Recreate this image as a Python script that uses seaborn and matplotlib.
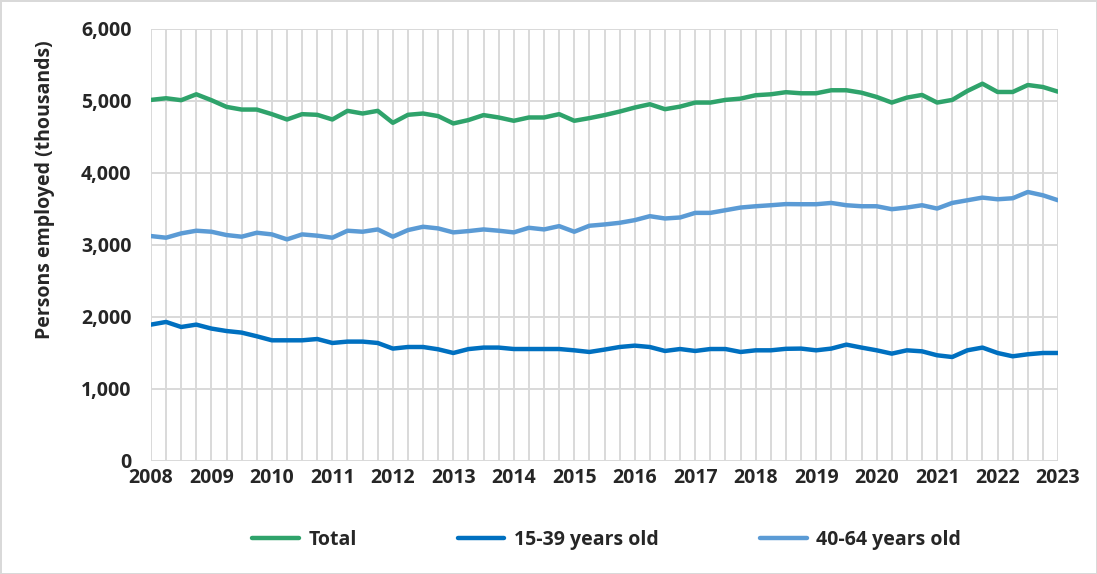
import numpy as np
import pandas as pd
import matplotlib
matplotlib.use("Agg")
import matplotlib.pyplot as plt
import seaborn as sns
from matplotlib.ticker import FuncFormatter, MultipleLocator

# Quarterly data, 2008 Q1 .. 2023 Q1 (thousands)
start_year = 2008
total = [5015, 5038, 5011, 5093, 5011, 4918, 4881, 4881, 4817, 4743,
         4817, 4808, 4743, 4863, 4826, 4863, 4697, 4808, 4826, 4790,
         4688, 4735, 4804, 4771, 4725, 4771, 4771, 4817, 4725, 4762,
         4804, 4853, 4909, 4955, 4886, 4922, 4978, 4978, 5015, 5033,
         5080, 5093, 5122, 5107, 5107, 5149, 5149, 5115, 5056, 4978,
         5047, 5084, 4978, 5015, 5139, 5240, 5125, 5125, 5222, 5194,
         5129]
age_15_39 = [1894, 1931, 1861, 1894, 1839, 1805, 1783, 1732, 1676, 1676,
             1676, 1694, 1639, 1658, 1658, 1639, 1561, 1583, 1583, 1551,
             1500, 1554, 1575, 1575, 1555, 1555, 1555, 1555, 1537, 1514,
             1547, 1583, 1602, 1583, 1528, 1555, 1528, 1555, 1555, 1514,
             1537, 1537, 1558, 1561, 1537, 1561, 1616, 1575, 1537, 1491,
             1537, 1523, 1468, 1444, 1537, 1575, 1500, 1454, 1482, 1500,
             1500]
age_40_64 = [3124, 3101, 3161, 3198, 3184, 3138, 3115, 3170, 3147, 3078,
             3147, 3129, 3101, 3198, 3184, 3216, 3115, 3207, 3253, 3230,
             3175, 3193, 3216, 3198, 3175, 3239, 3216, 3262, 3184, 3267,
             3285, 3308, 3345, 3400, 3368, 3382, 3446, 3446, 3483, 3520,
             3538, 3552, 3568, 3566, 3566, 3584, 3552, 3538, 3538, 3497,
             3520, 3552, 3506, 3584, 3621, 3658, 3635, 3649, 3736, 3690,
             3621]
series_names = ["Total", "15-39 years old", "40-64 years old"]
colors = ["#2fa36b", "#0070c0", "#5b9bd5"]
year_ticks = list(range(2008, 2024))

x = [start_year + i * 0.25 for i in range(len(total))]
df = pd.DataFrame({
    "time": x * 3,
    "value": total + age_15_39 + age_40_64,
    "series": [series_names[0]] * len(x) + [series_names[1]] * len(x) + [series_names[2]] * len(x),
})

sns.set_theme(style="white")
plt.rcParams["font.family"] = ["Open Sans", "DejaVu Sans"]

fig = plt.figure(figsize=(10.97, 5.74), dpi=100, edgecolor="#d9d9d9", linewidth=2)
ax = fig.add_axes([0.1376, 0.1969, 0.8269, 0.7526])

sns.lineplot(data=df, x="time", y="value", hue="series", hue_order=series_names,
             palette=colors, linewidth=3.2, ax=ax, legend=False, zorder=3)

ax.set_xlim(2008, 2023)
ax.set_ylim(0, 6000)
ax.set_xticks(year_ticks)
ax.xaxis.set_minor_locator(MultipleLocator(0.25))
ax.yaxis.set_major_locator(MultipleLocator(1000))
ax.yaxis.set_major_formatter(FuncFormatter(lambda v, p: f"{int(v):,}"))
ax.grid(True, which="both", axis="x", color="#d9d9d9", linewidth=1.4, zorder=0)
ax.grid(True, which="major", axis="y", color="#d9d9d9", linewidth=1.4, zorder=0)
for s in ax.spines.values():
    s.set_visible(False)
ax.tick_params(axis="y", length=0, pad=14, labelsize=14)
ax.tick_params(axis="x", which="both", length=0, pad=5, labelsize=14)
for lab in ax.get_xticklabels() + ax.get_yticklabels():
    lab.set_fontweight("bold")
ax.set_xlabel("")
ax.set_ylabel("Persons employed (thousands)", fontsize=14, fontweight="bold")
ax.yaxis.set_label_coords(-0.106, 0.627)

handles = [plt.Line2D([0], [0], color=c, linewidth=3.2) for c in colors]
leg = fig.legend(handles, series_names, loc="center", bbox_to_anchor=(0.553, 0.059),
                 ncol=3, frameon=False, handlelength=2.4, columnspacing=5.2,
                 handletextpad=0.5, prop={"weight": "bold", "size": 14})

fig.savefig("out.png", dpi=100, edgecolor=fig.get_edgecolor())
